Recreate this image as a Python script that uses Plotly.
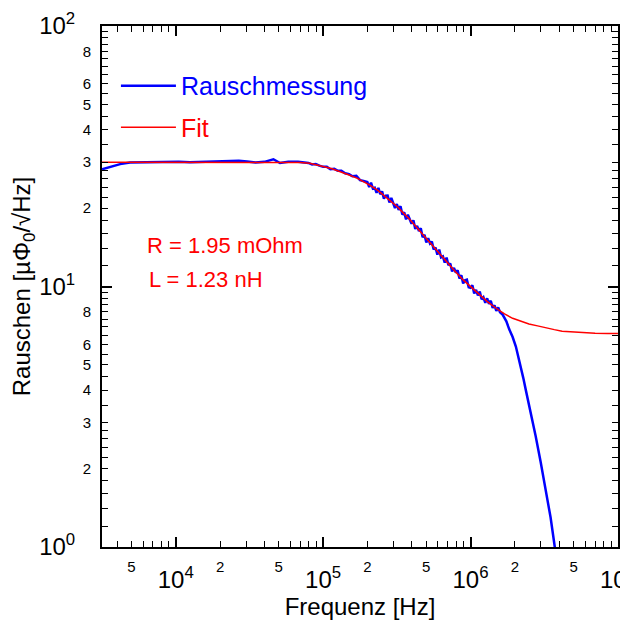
import plotly.graph_objects as go

# Rauschmessung: Frequenz [Hz] / Rauschen [µΦ0/√Hz]
freq_mess = [3162, 3600, 4200, 4900, 6000, 7200, 8700, 1.05e4, 1.25e4, 1.45e4,
             1.75e4, 2.19e4, 2.45e4, 2.68e4, 3.05e4, 3.48e4, 4.0e4, 4.6e4, 5.1e4, 5.8e4,
             6.76e4, 7.08e4, 7.5e4, 7.94e4, 8.41e4, 8.91e4, 9.44e4, 1.0e5, 1.06e5, 1.12e5,
             1.19e5, 1.26e5, 1.33e5, 1.41e5, 1.5e5, 1.58e5, 1.68e5, 1.78e5, 1.88e5,
             1.995e5, 2.054e5, 2.113e5, 2.175e5, 2.239e5, 2.304e5, 2.371e5, 2.441e5, 2.512e5, 2.585e5,
             2.661e5, 2.738e5, 2.818e5, 2.901e5, 2.985e5, 3.072e5, 3.162e5, 3.255e5, 3.350e5, 3.447e5,
             3.548e5, 3.652e5, 3.758e5, 3.868e5, 3.981e5, 4.097e5, 4.217e5, 4.340e5, 4.467e5, 4.597e5,
             4.732e5, 4.870e5, 5.012e5, 5.158e5, 5.309e5, 5.464e5, 5.623e5, 5.788e5, 5.957e5, 6.131e5,
             6.310e5, 6.494e5, 6.683e5, 6.879e5, 7.079e5, 7.286e5, 7.499e5, 7.718e5, 7.943e5, 8.175e5,
             8.414e5, 8.660e5, 8.913e5, 9.173e5, 9.441e5, 9.716e5, 1.000e6, 1.029e6, 1.059e6, 1.090e6,
             1.122e6, 1.155e6, 1.189e6, 1.223e6, 1.259e6, 1.296e6, 1.334e6, 1.372e6, 1.413e6, 1.454e6,
             1.496e6, 1.540e6, 1.585e6,
             1.65e6, 1.75e6, 1.83e6, 1.93e6, 2.03e6, 2.11e6, 2.19e6, 2.28e6, 2.37e6, 2.56e6,
             2.76e6, 2.99e6, 3.23e6, 3.49e6, 3.71e6, 3.9e6]
rausch_mess = [28.2, 28.8, 29.5, 29.9, 30.0, 30.0, 30.2, 30.1, 30.0, 30.1,
               30.2, 30.4, 30.3, 30.4, 30.2, 29.9, 30.1, 30.8, 29.8, 30.1,
               30.1, 30.0, 29.8, 29.8, 29.4, 29.5, 29.1, 28.8, 28.8, 28.2,
               28.3, 27.8, 27.8, 27.2, 27.0, 26.5, 26.6, 25.6, 25.4,
               25.16, 24.08, 25.02, 23.76, 23.96, 22.88, 23.92, 22.61, 23.18, 21.74,
               22.33, 22.35, 21.02, 21.87, 20.72, 20.02, 20.72, 19.68, 20.34, 18.88,
               19.25, 18.10, 18.87, 18.17, 17.41, 17.95, 16.63, 17.09, 16.32, 16.74,
               15.47, 15.80, 14.77, 15.33, 14.63, 14.87, 13.88, 14.11, 13.26, 13.85,
               12.93, 13.05, 12.36, 12.91, 12.07, 12.26, 11.42, 11.79, 11.30, 11.53,
               10.73, 11.05, 10.28, 10.57, 10.63, 9.93, 9.88, 10.11, 9.41, 9.71,
               9.25, 9.56, 8.93, 9.09, 8.66, 9.01, 8.57, 8.82, 8.28, 8.47,
               8.06, 8.31, 7.97,
               7.8, 7.35, 6.85, 6.4, 5.88, 5.4, 4.92, 4.45, 4.01, 3.30,
               2.68, 2.12, 1.66, 1.30, 1.02, 0.82]

# Fit (R = 1.95 mOhm, L = 1.23 nH)
freq_fit = [3162, 1e4, 3e4, 6e4, 7e4, 8.1e4, 9e4, 1.0e5, 1.15e5, 1.32e5,
            1.5e5, 1.71e5, 1.9e5, 2.1e5, 2.35e5, 2.59e5, 2.9e5, 3.2e5, 3.55e5, 3.9e5,
            4.45e5, 5.1e5, 5.9e5, 6.88e5, 7.9e5, 8.91e5, 1.0e6, 1.15e6, 1.3e6, 1.49e6,
            1.7e6, 1.93e6, 2.2e6, 2.49e6, 2.85e6, 3.23e6, 3.7e6, 4.18e6, 5e6, 6e6,
            7e6, 8.5e6, 1e7]
rausch_fit = [30.0, 30.0, 30.0, 30.0, 29.9, 29.7, 29.35, 28.9, 28.3, 27.6,
              26.8, 26.0, 25.2, 24.4, 23.4, 22.4, 21.2, 20.2, 19.0, 18.0,
              16.5, 15.1, 13.7, 12.45, 11.4, 10.6, 9.98, 9.28, 8.75, 8.25,
              7.85, 7.55, 7.34, 7.18, 7.06, 6.97, 6.83, 6.74, 6.68, 6.63,
              6.61, 6.6, 6.6]

x_major = [1e4, 1e5, 1e6, 1e7]
x_major_text = ['10<sup>4</sup>', '10<sup>5</sup>', '10<sup>6</sup>', '10<sup>7</sup>']
x_minor_lab = [5e3, 2e4, 5e4, 2e5, 5e5, 2e6, 5e6]
x_minor_text = ['5', '2', '5', '2', '5', '2', '5']
y_major = [1, 10, 100]
y_major_text = ['10<sup>0</sup>', '10<sup>1</sup>', '10<sup>2</sup>']
y_minor_lab = [2, 3, 4, 5, 6, 8, 20, 30, 40, 50, 60, 80]
y_minor_text = ['2', '3', '4', '5', '6', '8', '2', '3', '4', '5', '6', '8']

# kleine Striche (nur Stil)
x_minor_ticks = [m * 10 ** e for e in range(3, 7) for m in range(2, 10)]
y_steps = [1.2, 1.4, 1.6, 1.8, 2, 2.2, 2.4, 2.6, 2.8, 3, 3.5, 4, 4.5, 5, 5.5, 6, 6.5, 7, 7.5, 8, 8.5, 9, 9.5]
y_minor_ticks = [s * d for d in (1, 10) for s in y_steps]

FONT = 'Liberation Sans, Arial, sans-serif'
Y_MINOR = dict(tickvals=y_minor_ticks, ticks='inside', ticklen=6,
               tickwidth=1.2, tickcolor='black', showgrid=False)

fig = go.Figure()
fig.add_trace(go.Scatter(
    x=freq_mess, y=rausch_mess, mode='lines',
    name="<span style='color:#0000ff'>Rauschmessung</span>",
    line=dict(color='#0000ff', width=2.5),
    legendgroup='a'
))
fig.add_trace(go.Scatter(
    x=freq_fit, y=rausch_fit, mode='lines',
    name="<span style='color:#ff0000'>Fit</span>",
    line=dict(color='#ff0000', width=1.5),
    legendgroup='b'
))
# leere Spuren fuer die Zusatzachsen (kleine Beschriftung, rechte Achse)
fig.add_trace(go.Scatter(x=[], y=[], xaxis='x2', yaxis='y2', showlegend=False))
fig.add_trace(go.Scatter(x=[], y=[], xaxis='x', yaxis='y3', showlegend=False))

# die Seite hat 8px Rand, daher Figur etwas kleiner (passt ohne Scrollen)
fig.update_layout(
    width=612, height=614,
    margin=dict(l=94, r=2, t=18, b=75),
    plot_bgcolor='white', paper_bgcolor='white',
    font=dict(family=FONT, color='black'),
    legend=dict(
        x=0.027, y=0.929, xanchor='left', yanchor='top',
        font=dict(size=25), bgcolor='rgba(0,0,0,0)',
        traceorder='grouped', tracegroupgap=6, itemwidth=55
    ),
    xaxis=dict(
        type='log', range=[3.5, 7.0003], automargin=False,
        tickmode='array', tickvals=x_major, ticktext=x_major_text,
        tickfont=dict(size=24), ticklabelstandoff=10, ticklabeloverflow='allow',
        ticks='inside', ticklen=10, tickwidth=1.5, tickcolor='black',
        showline=True, linewidth=2, linecolor='black', mirror='ticks',
        showgrid=False, zeroline=False,
        minor=dict(tickvals=x_minor_ticks, ticks='inside', ticklen=6,
                   tickwidth=1.2, tickcolor='black', showgrid=False),
        title=dict(text='Frequenz [Hz]', font=dict(size=24), standoff=6)
    ),
    xaxis2=dict(
        type='log', range=[3.5, 7.0003], overlaying='x', anchor='y', side='bottom',
        automargin=False,
        tickmode='array', tickvals=x_minor_lab, ticktext=x_minor_text,
        tickfont=dict(size=15), ticklabelstandoff=9,
        ticks='', showline=False, showgrid=False, zeroline=False
    ),
    yaxis=dict(
        type='log', range=[0, 2], automargin=False,
        tickmode='array', tickvals=y_major, ticktext=y_major_text,
        tickfont=dict(size=24), ticklabeloverflow='allow',
        ticks='inside', ticklen=10, tickwidth=1.5, tickcolor='black',
        ticklabelstandoff=20,
        showline=True, linewidth=2, linecolor='black', mirror='ticks',
        showgrid=False, zeroline=False,
        minor=Y_MINOR,
        title=dict(text='Rauschen [µΦ<sub>0</sub>/√Hz]', font=dict(size=24), standoff=0)
    ),
    yaxis2=dict(
        type='log', range=[0, 2], overlaying='y', anchor='x', side='left',
        automargin=False,
        tickmode='array', tickvals=y_minor_lab, ticktext=y_minor_text,
        tickfont=dict(size=15), ticks='', showline=False, showgrid=False,
        zeroline=False, ticklabelstandoff=10
    ),
    # rechte Achse (gespiegelt)
    yaxis3=dict(
        type='log', range=[0, 2], overlaying='y', anchor='x', side='right',
        automargin=False, showticklabels=False,
        tickmode='array', tickvals=y_major,
        ticks='inside', ticklen=10, tickwidth=1.5, tickcolor='black',
        showline=True, linewidth=2, linecolor='black',
        showgrid=False, zeroline=False,
        minor=Y_MINOR
    ),
    annotations=[
        dict(text='R = 1.95 mOhm', x=0.0835, y=0.578, xref='paper', yref='paper',
             xanchor='left', yanchor='middle', showarrow=False,
             font=dict(size=22, color='#ff0000')),
        dict(text='L = 1.23 nH', x=0.0872, y=0.5125, xref='paper', yref='paper',
             xanchor='left', yanchor='middle', showarrow=False,
             font=dict(size=22, color='#ff0000')),
    ]
)

fig.write_html('out.html')
